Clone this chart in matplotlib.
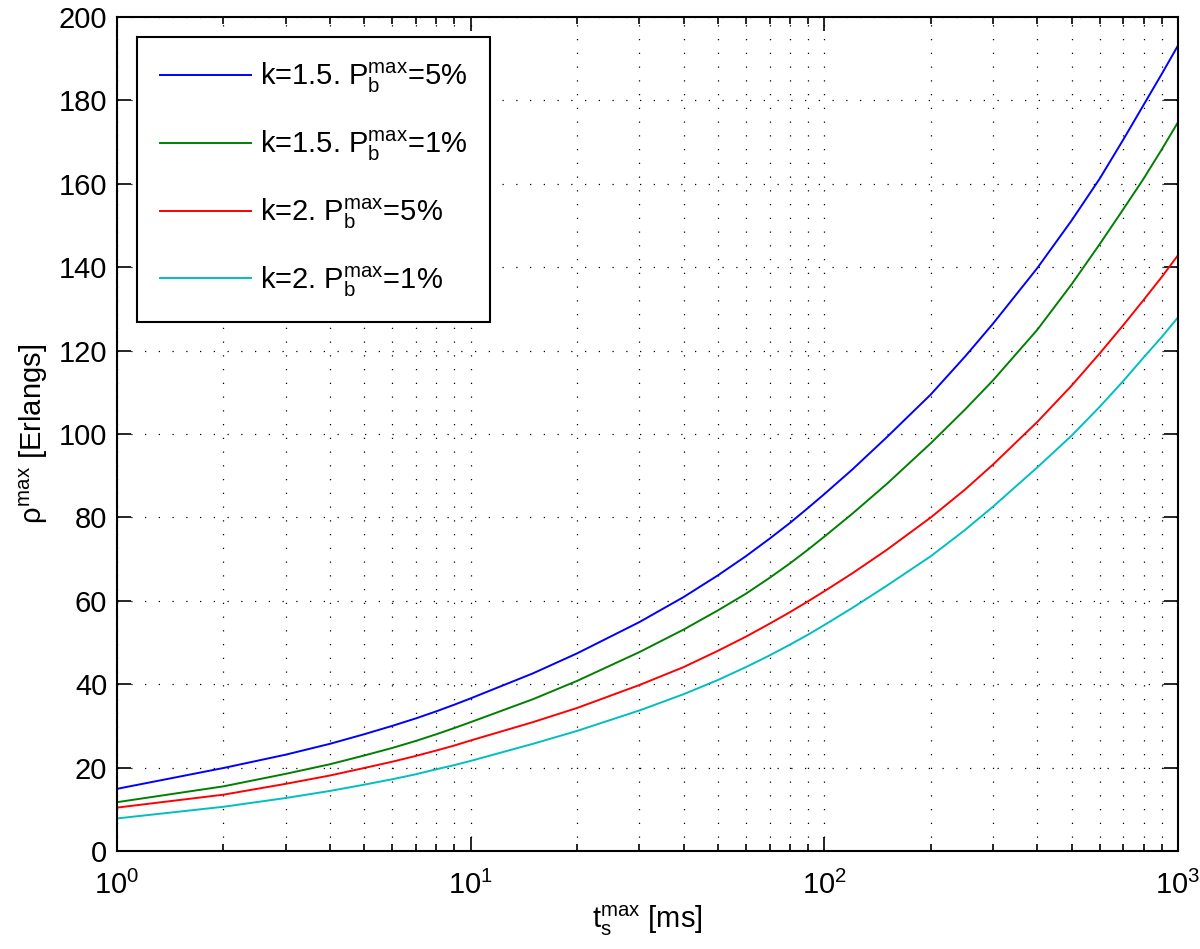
import numpy as np
import matplotlib
matplotlib.use("Agg")
import matplotlib.pyplot as plt
from matplotlib.ticker import LogLocator, NullFormatter, MultipleLocator

plt.rcParams['font.family'] = ['Liberation Sans', 'DejaVu Sans']
plt.rcParams['mathtext.fontset'] = 'custom'
plt.rcParams['mathtext.rm'] = 'Liberation Sans'
plt.rcParams['mathtext.it'] = 'Liberation Sans'
plt.rcParams['mathtext.bf'] = 'Liberation Sans:bold'

# valores
t_ms = [1, 2, 3, 4, 5, 6, 7, 8, 9, 10, 15, 20, 30, 40, 50, 60, 70, 80, 90, 100,
        120, 150, 200, 250, 300, 400, 500, 600, 700, 800, 900, 1000]
rho_k15_p5 = [14.9, 19.9, 23.1, 25.7, 28.0, 30.0, 31.8, 33.5, 35.1, 36.6, 42.6, 47.4, 54.9, 60.9, 66.1, 70.7, 74.9, 78.7, 82.3, 85.6,
              91.5, 99.2, 109.5, 118.6, 126.5, 139.8, 151.2, 161.2, 170.6, 179.0, 186.4, 193.2]
rho_k15_p1 = [11.7, 15.5, 18.5, 20.8, 22.9, 24.7, 26.4, 28.0, 29.5, 30.9, 36.4, 40.8, 47.7, 53.1, 57.7, 61.7, 65.5, 69.0, 72.3, 75.4,
              80.9, 88.0, 97.8, 105.9, 112.9, 125.0, 135.9, 145.5, 153.9, 161.3, 168.3, 174.8]
rho_k2_p5 = [10.4, 13.5, 16.1, 18.1, 19.9, 21.4, 22.8, 24.1, 25.3, 26.5, 30.9, 34.3, 39.8, 44.1, 48.0, 51.4, 54.5, 57.3, 59.9, 62.3,
             66.6, 72.2, 80.0, 86.7, 92.7, 102.9, 111.6, 119.3, 126.1, 132.2, 137.7, 142.9]
rho_k2_p1 = [7.8, 10.6, 12.7, 14.4, 15.9, 17.2, 18.4, 19.6, 20.6, 21.6, 25.7, 28.8, 33.7, 37.6, 41.0, 44.1, 46.9, 49.5, 51.9, 54.2,
             58.3, 63.6, 70.7, 77.0, 82.6, 92.0, 99.6, 106.5, 112.7, 118.4, 123.3, 128.0]

labels = [r'k=1.5. P$_\mathrm{b}^\mathrm{max}$=5%',
          r'k=1.5. P$_\mathrm{b}^\mathrm{max}$=1%',
          r'k=2. P$_\mathrm{b}^\mathrm{max}$=5%',
          r'k=2. P$_\mathrm{b}^\mathrm{max}$=1%']
colores = ['#0000ff', '#008000', '#ff0000', '#00bfbf']

fig = plt.figure(figsize=(12, 9.49), dpi=100)
ax = fig.add_axes([0.0975, 0.1033, 0.8842, 0.8787])

for serie, lab, c in zip([rho_k15_p5, rho_k15_p1, rho_k2_p5, rho_k2_p1], labels, colores):
    ax.plot(t_ms, serie, color=c, lw=1.4, label=lab)

ax.set_xscale('log')
ax.set_xlim(1, 1000)
ax.set_ylim(0, 200)
ax.yaxis.set_major_locator(MultipleLocator(20))
ax.xaxis.set_major_locator(LogLocator(base=10))
ax.xaxis.set_minor_locator(LogLocator(base=10, subs=np.arange(2, 10)))
ax.xaxis.set_minor_formatter(NullFormatter())

punteado = (0, (1, 10))
ax.grid(True, which='major', color='black', linestyle=punteado, lw=0.9)
ax.grid(True, which='minor', axis='x', color='black', linestyle=punteado, lw=0.9)

ax.tick_params(which='both', direction='in', top=True, right=True, labelsize=21, width=1.2)
ax.tick_params(which='major', length=10)
ax.tick_params(which='minor', length=5)
ax.tick_params(axis='x', pad=14)
ax.tick_params(axis='y', pad=7)
for s in ax.spines.values():
    s.set_linewidth(1.5)

ax.set_xlabel(r't$_\mathrm{s}^\mathrm{max}$ [ms]', fontsize=21, labelpad=3)
ax.set_ylabel(r'$\rho^\mathrm{max}$ [Erlangs]', fontsize=21, labelpad=6)

leg = ax.legend(loc='upper left', bbox_to_anchor=(0.019, 0.976), borderaxespad=0,
                fontsize=21, fancybox=False, framealpha=1, edgecolor='black',
                handlelength=3.1, labelspacing=1.15, borderpad=0.8, handletextpad=0.3)
leg.get_frame().set_linewidth(1.5)

fig.savefig('out.png', dpi=100)
